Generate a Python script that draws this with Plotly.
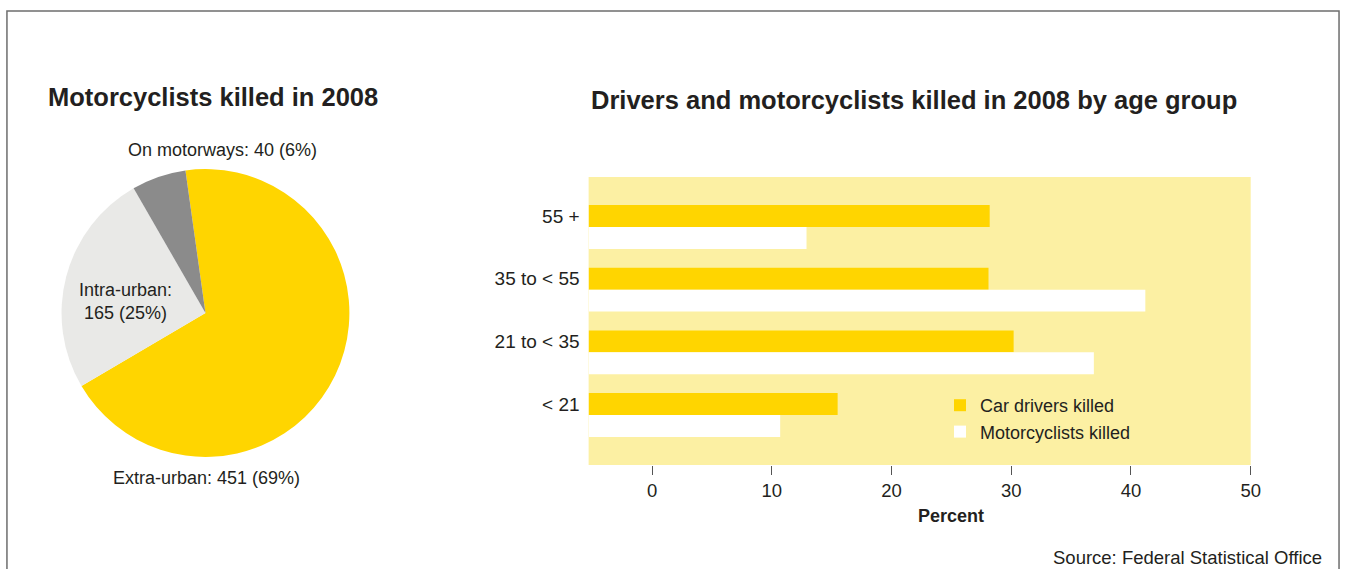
import plotly.graph_objects as go

# ---------------- data ----------------
pie_labels = ["Extra-urban", "Intra-urban", "On motorways"]
pie_values = [451, 165, 40]

age_groups = ["< 21", "21 to < 35", "35 to < 55", "55 +"]
car_drivers = [15.5, 30.2, 28.1, 28.2]
motorcyclists = [10.7, 36.9, 41.2, 12.9]
x_ticks = [0, 10, 20, 30, 40, 50]

# ---------------- styling ----------------
W, H = 1353, 569
YELLOW = "#FFD500"
LIGHT_GREY = "#E9E9E7"
DARK_GREY = "#8B8B8B"
BG_YELLOW = "#FCF0A3"
TXT = "#231F20"
FONT = "Liberation Sans Narrow, Arial Narrow, Liberation Sans, Arial, sans-serif"
BOLD = "Liberation Sans, Arial, sans-serif"
XMIN = -5.3


def px(x):
    return x / W


def py(y):
    return 1 - y / H


total = sum(pie_values)
pct = [round(v / total * 100) for v in pie_values]

fig = go.Figure()

fig.add_trace(go.Pie(
    labels=pie_labels, values=pie_values, sort=False, direction="clockwise",
    rotation=352, textinfo="none", showlegend=False,
    marker=dict(colors=[YELLOW, LIGHT_GREY, DARK_GREY], line=dict(width=0)),
    domain=dict(x=[px(62), px(352)], y=[py(458), py(168)]),
))

fig.add_trace(go.Bar(
    y=age_groups, x=[v - XMIN for v in car_drivers], base=XMIN,
    orientation="h", width=0.35, offset=-0.175,
    marker=dict(color=YELLOW, line=dict(width=0)), name="Car drivers killed",
))
fig.add_trace(go.Bar(
    y=age_groups, x=[v - XMIN for v in motorcyclists], base=XMIN,
    orientation="h", width=0.35, offset=-0.525,
    marker=dict(color="#FFFFFF", line=dict(width=0)), name="Motorcyclists killed",
))

annotations = [
    dict(text="<b>Motorcyclists killed in 2008</b>", x=px(46), y=py(97),
         xanchor="left", yanchor="middle", font=dict(family=BOLD, size=25.5, color=TXT)),
    dict(text="<b>Drivers and motorcyclists killed in 2008 by age group</b>", x=px(593), y=py(100),
         xanchor="left", yanchor="middle", font=dict(family=BOLD, size=25.5, color=TXT)),
    dict(text=f"{pie_labels[2]}: {pie_values[2]} ({pct[2]}%)", x=px(224), y=py(150),
         xanchor="center", yanchor="middle", font=dict(family=FONT, size=18, color=TXT)),
    dict(text=f"{pie_labels[1]}:<br>{pie_values[1]} ({pct[1]}%)", x=px(126), y=py(301),
         xanchor="center", yanchor="middle", font=dict(family=FONT, size=18, color=TXT)),
    dict(text=f"{pie_labels[0]}: {pie_values[0]} ({pct[0]}%)", x=px(208), y=py(478),
         xanchor="center", yanchor="middle", font=dict(family=FONT, size=18, color=TXT)),
    dict(text="<b>Percent</b>", x=25, xref="x", y=py(516), xanchor="center", yanchor="middle",
         font=dict(family=FONT, size=18, color=TXT)),
    dict(text="Source: Federal Statistical Office", x=px(1334), y=py(557),
         xanchor="right", yanchor="middle", font=dict(family=FONT, size=18.5, color=TXT)),
]
for a in annotations:
    a.setdefault("xref", "paper")
    a["yref"] = "paper"
    a["showarrow"] = False

fig.update_layout(
    width=W, height=H, autosize=False,
    margin=dict(l=0, r=0, t=0, b=0),
    paper_bgcolor="white", plot_bgcolor=BG_YELLOW,
    barmode="overlay",
    font=dict(family=FONT, size=18, color=TXT),
    annotations=annotations,
    showlegend=True,
    legend=dict(x=px(947), y=py(387), xanchor="left", yanchor="top",
                bgcolor="rgba(0,0,0,0)", font=dict(family=FONT, size=18, color=TXT),
                traceorder="normal", tracegroupgap=0, itemclick=False),
    xaxis=dict(domain=[px(593), px(1260)], range=[XMIN, 50], tickvals=x_ticks,
               ticks="outside", ticklen=9, tickcolor="#555", tickwidth=1,
               showgrid=False, zeroline=False, showline=False,
               tickfont=dict(family=FONT, size=18.5, color=TXT)),
    yaxis=dict(domain=[py(465), py(177)], type="category", categoryorder="array",
               categoryarray=age_groups, range=[-0.972, 3.622],
               showgrid=False, zeroline=False, showline=False, ticks="",
               ticklabelstandoff=8, tickfont=dict(family=FONT, size=19, color=TXT)),
    shapes=[dict(type="path", xref="paper", yref="paper",
                 path=f"M {px(7)},-0.1 L {px(7)},{py(11)} L {px(1349)},{py(11)} L {px(1349)},-0.1",
                 line=dict(color="#6E6E6E", width=1.5))],
)

fig.write_html(
    "out.html",
    config={"displayModeBar": False},
    post_script=("document.body.style.margin='0';"
                 "document.body.style.overflow='hidden';"
                 "document.documentElement.style.overflow='hidden';"),
)
